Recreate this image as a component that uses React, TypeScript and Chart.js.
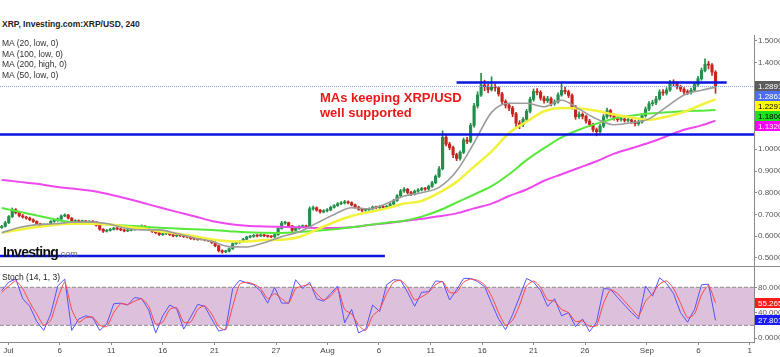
import React, { useEffect, useRef } from "react";
import { Chart, registerables } from "chart.js";
Chart.register(...registerables);

const FONT = 'Arial, "Liberation Sans", Helvetica, sans-serif';

// ---- candle data (4h-ish candles, open = previous close) ----
const firstOpen = 0.64;
const closes = [
  0.645,0.662,0.690,0.722,0.708,0.694,0.688,0.683,0.676,0.668,
  0.657,0.648,0.652,0.650,0.668,0.672,0.679,0.693,0.697,0.683,
  0.668,0.671,0.667,0.670,0.664,0.668,0.665,0.650,0.632,0.623,
  0.627,0.631,0.637,0.633,0.629,0.624,0.627,0.630,0.635,0.642,
  0.646,0.635,0.629,0.621,0.616,0.607,0.611,0.614,0.607,0.601,
  0.604,0.602,0.598,0.596,0.589,0.587,0.585,0.588,0.582,0.579,
  0.571,0.556,0.533,0.528,0.531,0.542,0.566,0.571,0.575,0.586,
  0.596,0.599,0.603,0.601,0.606,0.602,0.599,0.597,0.607,0.636,
  0.660,0.662,0.647,0.627,0.636,0.644,0.647,0.643,0.726,0.731,
  0.720,0.712,0.717,0.721,0.733,0.741,0.749,0.753,0.758,0.754,
  0.744,0.734,0.724,0.719,0.722,0.726,0.734,0.731,0.736,0.733,
  0.737,0.748,0.764,0.786,0.808,0.816,0.801,0.794,0.807,0.813,
  0.819,0.817,0.829,0.846,0.875,0.910,1.055,1.024,1.008,0.975,
  0.958,0.986,1.043,1.036,1.110,1.200,1.250,1.296,1.288,1.274,
  1.285,1.283,1.255,1.220,1.203,1.190,1.163,1.120,1.113,1.138,
  1.175,1.230,1.266,1.262,1.236,1.224,1.233,1.210,1.218,1.250,
  1.271,1.265,1.248,1.195,1.150,1.161,1.152,1.130,1.114,1.090,
  1.081,1.107,1.150,1.178,1.157,1.142,1.137,1.139,1.133,1.135,
  1.128,1.118,1.126,1.155,1.185,1.210,1.214,1.232,1.263,1.259,
  1.273,1.306,1.304,1.287,1.277,1.264,1.261,1.272,1.298,1.325,
  1.363,1.392,1.388,1.355,1.2891,
];
const highs = [
  0.650,0.668,0.695,0.730,0.727,0.712,0.700,0.692,0.688,0.680,
  0.671,0.660,0.657,0.656,0.672,0.677,0.684,0.698,0.703,0.700,
  0.686,0.676,0.675,0.674,0.673,0.672,0.671,0.668,0.653,0.635,
  0.631,0.636,0.641,0.640,0.636,0.632,0.631,0.634,0.639,0.647,
  0.652,0.649,0.638,0.632,0.624,0.619,0.615,0.619,0.617,0.610,
  0.608,0.607,0.605,0.601,0.599,0.592,0.590,0.592,0.591,0.585,
  0.582,0.574,0.559,0.537,0.535,0.546,0.570,0.576,0.580,0.590,
  0.600,0.604,0.608,0.607,0.610,0.609,0.605,0.602,0.611,0.640,
  0.668,0.668,0.665,0.650,0.640,0.649,0.652,0.651,0.735,0.738,
  0.735,0.724,0.722,0.727,0.738,0.746,0.755,0.759,0.765,0.763,
  0.758,0.748,0.738,0.728,0.727,0.731,0.739,0.738,0.741,0.740,
  0.742,0.753,0.770,0.792,0.815,0.824,0.820,0.806,0.812,0.819,
  0.825,0.824,0.835,0.852,0.882,0.920,1.085,1.065,1.032,1.015,
  0.982,0.993,1.052,1.055,1.120,1.212,1.265,1.350,1.318,1.300,
  1.334,1.300,1.290,1.262,1.228,1.212,1.198,1.170,1.132,1.146,
  1.184,1.240,1.278,1.280,1.270,1.245,1.244,1.240,1.228,1.260,
  1.306,1.285,1.272,1.255,1.202,1.172,1.168,1.158,1.138,1.120,
  1.098,1.115,1.160,1.190,1.184,1.164,1.150,1.148,1.146,1.143,
  1.141,1.134,1.134,1.163,1.195,1.220,1.226,1.244,1.274,1.275,
  1.284,1.318,1.320,1.312,1.295,1.284,1.274,1.282,1.308,1.336,
  1.374,1.417,1.405,1.395,1.362,
];
const lows = [
  0.636,0.642,0.658,0.686,0.703,0.689,0.683,0.678,0.671,0.663,
  0.652,0.643,0.644,0.645,0.647,0.664,0.668,0.676,0.689,0.679,
  0.664,0.664,0.662,0.663,0.660,0.661,0.660,0.646,0.627,0.617,
  0.619,0.623,0.628,0.629,0.625,0.620,0.621,0.624,0.627,0.632,
  0.639,0.631,0.625,0.617,0.611,0.603,0.603,0.607,0.603,0.597,
  0.597,0.598,0.594,0.592,0.585,0.583,0.581,0.582,0.578,0.575,
  0.566,0.551,0.527,0.522,0.524,0.527,0.539,0.562,0.567,0.572,
  0.583,0.592,0.595,0.597,0.598,0.598,0.595,0.593,0.594,0.604,
  0.632,0.654,0.642,0.621,0.623,0.632,0.640,0.638,0.640,0.720,
  0.715,0.706,0.707,0.712,0.717,0.729,0.737,0.745,0.748,0.749,
  0.739,0.729,0.719,0.713,0.714,0.717,0.722,0.726,0.727,0.728,
  0.729,0.733,0.744,0.760,0.781,0.801,0.795,0.787,0.789,0.802,
  0.808,0.811,0.812,0.824,0.841,0.870,0.905,1.015,0.998,0.962,
  0.948,0.950,0.980,1.026,1.030,1.102,1.190,1.243,1.270,1.260,
  1.268,1.268,1.245,1.208,1.190,1.178,1.150,1.105,1.095,1.104,
  1.130,1.168,1.222,1.250,1.226,1.212,1.215,1.200,1.202,1.212,
  1.244,1.255,1.238,1.185,1.138,1.142,1.140,1.120,1.104,1.080,
  1.062,1.074,1.100,1.142,1.148,1.134,1.128,1.129,1.125,1.126,
  1.119,1.108,1.110,1.120,1.148,1.178,1.200,1.206,1.226,1.248,
  1.250,1.266,1.292,1.278,1.266,1.254,1.252,1.254,1.266,1.290,
  1.318,1.356,1.370,1.340,1.258,
];

// ---- moving averages, sampled at candle indices ----
const maIdx = [0,5,10,15,20,25,30,35,40,45,50,55,60,65,70,75,80,85,90,95,100,105,110,115,120,125,130,135,140,145,150,155,160,165,170,175,180,185,190,195,200,204];
const ma20 = [0.616,0.640,0.653,0.657,0.664,0.666,0.658,0.638,0.629,0.629,0.612,0.592,0.576,0.552,0.550,0.570,0.598,0.620,0.660,0.700,0.731,0.726,0.750,0.785,0.800,0.825,0.900,1.030,1.170,1.212,1.212,1.196,1.226,1.185,1.140,1.113,1.122,1.140,1.195,1.250,1.272,1.2863];
const ma50 = [0.616,0.630,0.642,0.652,0.657,0.657,0.655,0.645,0.636,0.623,0.612,0.600,0.585,0.577,0.575,0.582,0.584,0.596,0.630,0.665,0.693,0.711,0.728,0.750,0.762,0.800,0.850,0.920,0.990,1.075,1.127,1.175,1.190,1.188,1.177,1.160,1.146,1.136,1.150,1.172,1.205,1.2297];
const ma100 = [0.730,0.712,0.695,0.678,0.664,0.658,0.654,0.649,0.644,0.639,0.635,0.632,0.628,0.623,0.618,0.616,0.615,0.619,0.625,0.632,0.641,0.652,0.662,0.671,0.690,0.718,0.755,0.792,0.830,0.885,0.950,1.005,1.055,1.090,1.118,1.142,1.155,1.165,1.170,1.175,1.178,1.1806];
const ma200 = [0.859,0.850,0.841,0.829,0.819,0.810,0.795,0.776,0.755,0.733,0.712,0.692,0.670,0.656,0.648,0.645,0.643,0.641,0.638,0.638,0.641,0.651,0.660,0.670,0.680,0.692,0.705,0.728,0.750,0.785,0.815,0.855,0.885,0.915,0.945,0.980,1.005,1.030,1.060,1.090,1.110,1.1320];

// ---- horizontal levels (value, from index, to index) ----
const levelValues = [1.307, 1.068, 0.509];
const levelStart = [130, -0.5, -0.5];
const levelEnd = [207.2, 215, 109.5];

// ---- stochastic (every 2 candles) ----
const stochK = [75,88,93,62,50,26,12,38,82,93,12,30,35,32,12,22,54,55,52,64,62,44,8,35,52,46,14,33,53,50,30,11,14,78,91,87,84,74,55,80,55,55,92,78,88,62,58,70,82,24,45,8,14,52,42,84,92,91,72,50,72,73,90,89,60,76,94,94,89,81,55,30,13,37,65,94,88,75,50,62,35,40,18,30,10,25,78,77,64,52,40,30,82,66,95,86,70,40,25,45,84,85,27.801];
const stochD = [72,82,90,78,56,38,20,28,62,88,45,25,32,33,20,18,40,54,53,58,62,50,22,25,45,48,25,25,45,51,38,18,13,50,85,88,85,78,62,70,62,55,78,82,84,70,60,66,78,45,38,20,12,35,45,70,88,91,80,60,65,72,84,89,72,72,88,93,91,84,66,40,20,28,52,82,90,80,60,58,45,40,26,27,18,20,55,76,70,58,46,35,58,70,85,90,78,55,32,38,68,83,55.265];
const stochBands = [80, 20];

// ---- axes ----
const priceTicks = [1.5,1.4,1.3,1.2,1.1,1.0,0.9,0.8,0.7,0.6,0.5];
const stochTicks = [80, 40, 0];
const xTickPos = [1.9,16.6,31.3,46,60.8,78.4,93.1,107.8,122.6,137.3,152,166.7,184.4,199.1,213.8];
const xTickLabels = ["Jul","6","11","16","21","27","Aug","6","11","16","21","26","Sep","6","1"];

const X_MIN = -0.5, X_MAX = 215;
const UP = "#248f4a", DOWN = "#c4261f";

function resetPad(s: any) {
  s.paddingTop = 0; s.paddingBottom = 0; s.paddingLeft = 0; s.paddingRight = 0;
}

export default function App() {
  const priceRef = useRef<HTMLCanvasElement>(null);
  const stochRef = useRef<HTMLCanvasElement>(null);

  useEffect(() => {
    const opens = closes.map((c, i) => (i === 0 ? firstOpen : closes[i - 1]));
    const colors = closes.map((c, i) => (c >= opens[i] ? UP : DOWN));
    const bodies = closes.map((c, i) => ({ x: i, y: [opens[i], c] }));
    const wicks = closes.map((c, i) => ({ x: i, y: [lows[i], highs[i]] }));
    const maLine = (arr: number[]) => maIdx.map((x, k) => ({ x, y: arr[k] }));
    const last = (a: number[]) => a[a.length - 1];

    const axisMarks = [
      { value: last(closes), bg: "#5c5c5c", fg: "#ffffff" },
      { value: last(ma20), bg: "#4d6ef2", fg: "#ffffff" },
      { value: last(ma50), bg: "#ffff00", fg: "#000000" },
      { value: last(ma100), bg: "#1fe01f", fg: "#000000" },
      { value: last(ma200), bg: "#ff00ff", fg: "#ffffff" },
    ];
    const stochMarks = [
      { value: last(stochD), bg: "#ff1a1a", fg: "#ffffff" },
      { value: last(stochK), bg: "#1a1aff", fg: "#ffffff" },
    ];

    const boxPlugin = (id: string, marks: any[], digits: number) => ({
      id,
      afterDraw(chart: any) {
        const ctx = chart.ctx;
        const y = chart.scales.y;
        ctx.save();
        ctx.font = "8px " + FONT;
        ctx.textBaseline = "middle";
        ctx.textAlign = "left";
        let prev = -1e9;
        marks.forEach((m) => {
          let py = y.getPixelForValue(m.value);
          if (py < prev + 10) py = prev + 10;
          prev = py;
          ctx.fillStyle = m.bg;
          ctx.fillRect(755, Math.round(py - 5), 25, 10);
          ctx.fillStyle = m.fg;
          ctx.fillText(m.value.toFixed(digits), 758, py + 0.5);
        });
        ctx.restore();
      },
    });

    const yAxisCommon = (ticks: number[], fmt: (v: number) => string) => ({
      position: "right",
      afterFit: (s: any) => { s.width = 26; resetPad(s); },
      afterBuildTicks: (s: any) => { s.ticks = ticks.map((v) => ({ value: v })); },
      ticks: { callback: (v: any) => fmt(Number(v)), font: { size: 8, family: FONT }, color: "#555", padding: 1 },
      grid: { drawOnChartArea: false, tickLength: 3, color: "#8a8a8a" },
      border: { color: "#8a8a8a" },
    });

    const maDs = (label: string, arr: number[], color: string, w: number, order: number) => ({
      type: "line", label, data: maLine(arr), borderColor: color, borderWidth: w,
      pointRadius: 0, cubicInterpolationMode: "monotone", order,
    });

    const c1 = new Chart(priceRef.current as HTMLCanvasElement, {
      type: "bar",
      data: {
        datasets: [
          { type: "bar", label: "wicks", data: wicks, backgroundColor: colors, barThickness: 1, grouped: false, order: 20 } as any,
          { type: "bar", label: "bodies", data: bodies, backgroundColor: colors, barThickness: 2.5, minBarLength: 1, grouped: false, order: 19 } as any,
          maDs("MA200", ma200, "#ee48ee", 2, 9),
          maDs("MA100", ma100, "#58e83c", 2, 8),
          maDs("MA50", ma50, "#f2f23a", 2.5, 7),
          maDs("MA20", ma20, "#9c9c9c", 1.6, 6),
          {
            type: "line", label: "last", data: [{ x: X_MIN, y: last(closes) }, { x: X_MAX, y: last(closes) }],
            borderColor: "#8ea6de", borderWidth: 1, borderDash: [1, 1], pointRadius: 0, order: 2,
          },
          ...levelValues.map((v, k) => ({
            type: "line", label: "level" + k, data: [{ x: levelStart[k], y: v }, { x: levelEnd[k], y: v }],
            borderColor: "#0a16e0", borderWidth: 2.5, pointRadius: 0, order: 1,
          })),
        ] as any,
      },
      options: {
        animation: false, responsive: false, maintainAspectRatio: false, devicePixelRatio: 1,
        events: [],
        layout: { padding: 0 },
        plugins: { legend: { display: false }, tooltip: { enabled: false } },
        scales: {
          x: { type: "linear", min: X_MIN, max: X_MAX, display: false, offset: false },
          y: { ...yAxisCommon(priceTicks, (v) => v.toFixed(4)), min: 0.4627, max: 1.5262 },
        } as any,
      },
      plugins: [boxPlugin("priceBoxes", axisMarks, 4)],
    });

    const c2 = new Chart(stochRef.current as HTMLCanvasElement, {
      type: "line",
      data: {
        datasets: [
          {
            label: "upper", data: [{ x: X_MIN, y: stochBands[0] }, { x: X_MAX, y: stochBands[0] }],
            borderColor: "#8c8c8c", borderWidth: 1, borderDash: [4, 2], pointRadius: 0,
            fill: "+1", backgroundColor: "#dcc0dc", order: 10,
          },
          {
            label: "lower", data: [{ x: X_MIN, y: stochBands[1] }, { x: X_MAX, y: stochBands[1] }],
            borderColor: "#8c8c8c", borderWidth: 1, borderDash: [4, 2], pointRadius: 0, fill: false, order: 9,
          },
          {
            label: "%K", data: stochK.map((v, j) => ({ x: j * 2, y: v })),
            borderColor: "#5454ff", borderWidth: 1, pointRadius: 0, tension: 0, fill: false, order: 2,
          },
          {
            label: "%D", data: stochD.map((v, j) => ({ x: j * 2, y: v })),
            borderColor: "#ff4545", borderWidth: 1, pointRadius: 0, tension: 0.2, fill: false, order: 1,
          },
        ] as any,
      },
      options: {
        animation: false, responsive: false, maintainAspectRatio: false, devicePixelRatio: 1,
        events: [],
        layout: { padding: 0 },
        plugins: { legend: { display: false }, tooltip: { enabled: false } },
        scales: {
          x: {
            type: "linear", min: X_MIN, max: X_MAX, position: "bottom", offset: false,
            afterFit: (s: any) => { s.height = 15; resetPad(s); },
            afterBuildTicks: (s: any) => { s.ticks = xTickPos.map((v) => ({ value: v })); },
            ticks: {
              autoSkip: false, maxRotation: 0, padding: 1, color: "#444",
              font: { size: 8, family: FONT },
              callback: (_v: any, i: number) => xTickLabels[i],
            },
            grid: { drawOnChartArea: false, tickLength: 3, color: "#8a8a8a" },
            border: { color: "#8a8a8a" },
          },
          y: { ...yAxisCommon(stochTicks, (v) => v.toPrecision(5)), min: -6.3, max: 113.6 },
        } as any,
      },
      plugins: [boxPlugin("stochBoxes", stochMarks, 3)],
    });

    return () => { c1.destroy(); c2.destroy(); };
  }, []);

  const legend = ["MA (20, low, 0)", "MA (100, low, 0)", "MA (200, high, 0)", "MA (50, low, 0)"];

  return (
    <div style={{ position: "fixed", left: 0, top: 0, width: 780, height: 357, background: "#fff", overflow: "hidden", fontFamily: FONT }}>
      <canvas ref={priceRef} width={780} height={231} style={{ position: "absolute", left: 0, top: 35, width: 780, height: 231 }} />
      <canvas ref={stochRef} width={780} height={91} style={{ position: "absolute", left: 0, top: 266, width: 780, height: 91 }} />
      <div style={{ position: "absolute", left: 0, top: 266, width: 780, height: 1, background: "#8a8a8a" }} />
      <div style={{ position: "absolute", left: 2, top: 19, fontSize: 8.5, fontWeight: "bold", color: "#222", whiteSpace: "nowrap", lineHeight: "11px" }}>
        XRP, Investing.com:XRP/USD, 240
      </div>
      <div style={{ position: "absolute", left: 2, top: 38, fontSize: 8.5, color: "#333", lineHeight: "10.7px", whiteSpace: "nowrap" }}>
        {legend.map((t) => (<div key={t}>{t}</div>))}
      </div>
      <div style={{ position: "absolute", left: 320, top: 90, fontSize: 13, fontWeight: "bold", color: "#ee1717", lineHeight: "15px", whiteSpace: "nowrap" }}>
        <div>MAs keeping XRP/USD</div>
        <div>well supported</div>
      </div>
      <div style={{ position: "absolute", left: 3, top: 245, whiteSpace: "nowrap", lineHeight: "14px" }}>
        <span style={{ fontSize: 14, fontWeight: "bold", color: "#111", letterSpacing: -0.7 }}>Investing</span>
        <span style={{ fontSize: 9, color: "#666" }}>.com</span>
      </div>
      <div style={{ position: "absolute", left: 2, top: 272, fontSize: 8.5, color: "#222", whiteSpace: "nowrap", lineHeight: "10px" }}>
        Stoch (14, 1, 3)
      </div>
    </div>
  );
}
